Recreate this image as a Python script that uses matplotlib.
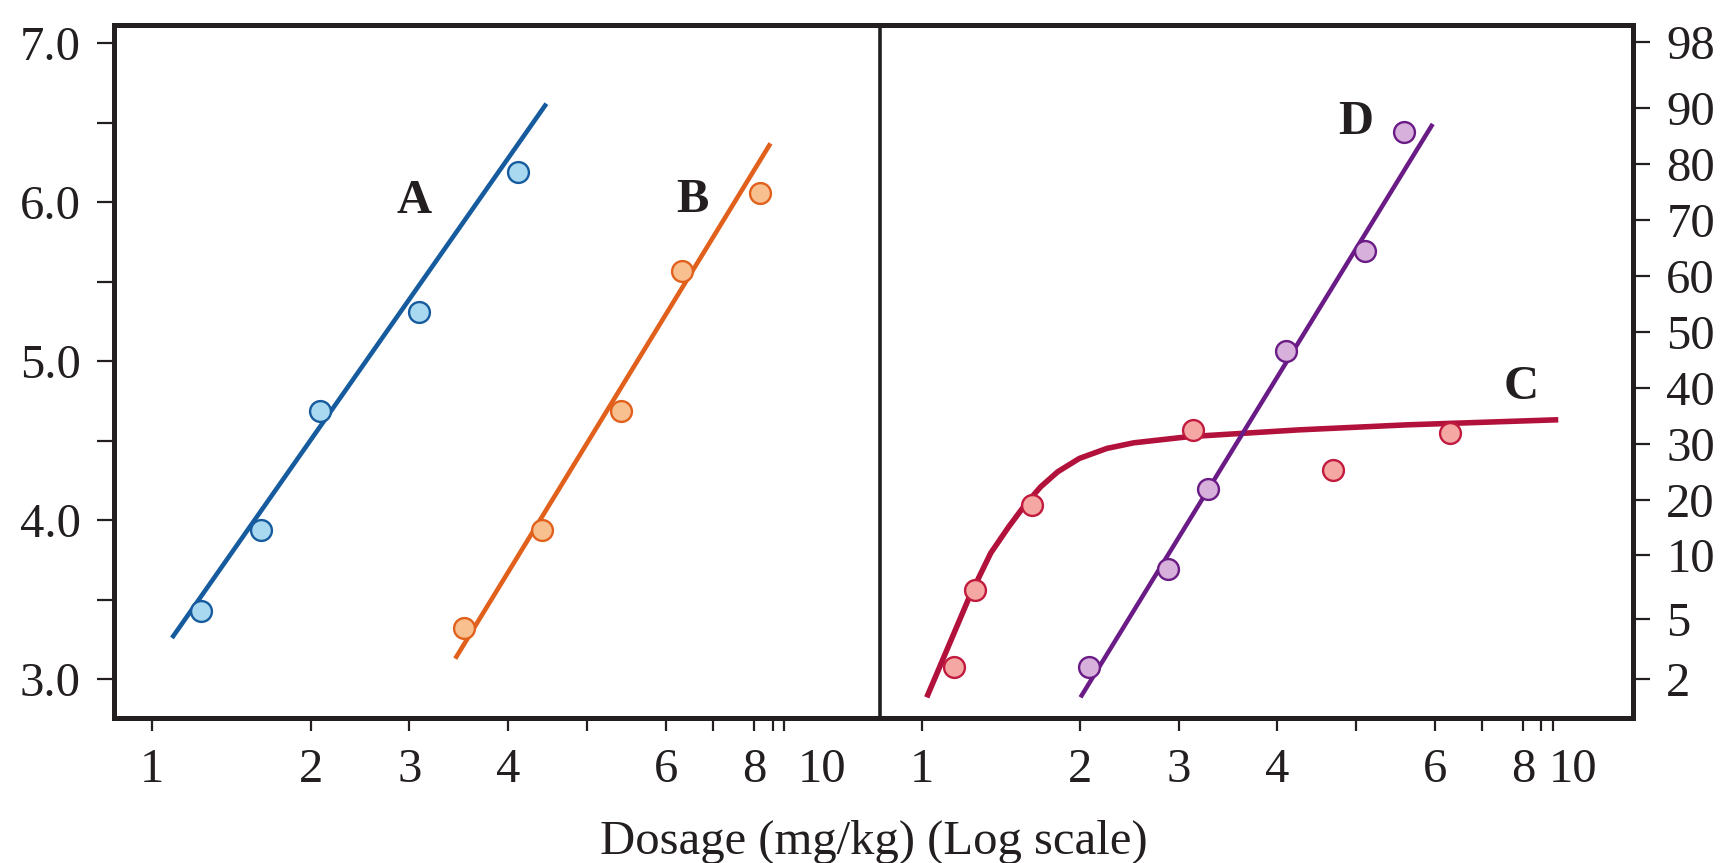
import numpy as np
import matplotlib.pyplot as plt
from matplotlib.transforms import ScaledTranslation

plt.rcParams['font.family'] = ['Liberation Serif', 'DejaVu Serif']

# The dose axis in the source figure is hand drawn: its gradations are not
# spaced as a true log scale. Gradation -> position (in decades from 1).
dose_marks = [0.5, 1, 2, 3, 4, 5, 6, 7, 8, 9, 10, 20]
dose_pos = [-0.301, 0.0, 0.251, 0.407, 0.563, 0.688, 0.813, 0.888, 0.953, 0.982, 1.0, 1.301]

# Right hand percent axis as printed -> height in probit units of the left axis
pct_marks = [1, 2, 5, 10, 20, 30, 40, 50, 60, 70, 80, 90, 98, 99]
pct_pos = [2.754, 3.004, 3.379, 3.780, 4.130, 4.480, 4.834, 5.184, 5.536, 5.887, 6.239, 6.591, 7.006, 7.256]

# Left panel, probit units
a_dose = [1.24, 1.61, 2.08, 3.09, 4.12]
a_probit = [3.43, 3.94, 4.69, 5.31, 6.19]
a_fit_dose = [1.09, 4.46]
a_fit_probit = [3.26, 6.62]

b_dose = [3.52, 4.41, 5.41, 6.32, 8.31]
b_probit = [3.32, 3.94, 4.69, 5.57, 6.06]
b_fit_dose = [3.43, 8.88]
b_fit_probit = [3.13, 6.37]

# Right panel, percent responding
c_dose = [1.15, 1.26, 1.62, 3.13, 4.68, 6.31]
c_pct = [2.6, 7.3, 19.0, 32.5, 25.3, 31.9]
c_fit_dose = [1.02, 1.23, 1.35, 1.46, 1.57, 1.68, 1.81, 1.99, 2.23, 2.49, 3.09, 4.25, 5.63, 10.2]
c_fit_pct = [1.53, 6.75, 10.4, 15.1, 19.1, 22.3, 25.0, 27.4, 29.2, 30.2, 31.3, 32.5, 33.4, 34.3]

d_dose = [2.07, 2.87, 3.27, 4.10, 5.11, 5.58]
d_pct = [2.6, 8.9, 21.9, 46.6, 64.5, 85.8]
d_fit_dose = [2.0, 5.97]
d_fit_pct = [1.53, 87.2]

x_ticks = [1, 2, 3, 4, 5, 6, 7, 8, 9, 10]
x_ticklabels = ['1', '2', '3', '4', '', '6', '', '8', '', '10']
y_ticks = [3.0, 3.5, 4.0, 4.5, 5.0, 5.5, 6.0, 6.5, 7.0]
y_ticklabels = ['3.0', '', '4.0', '', '5.0', '', '6.0', '', '7.0']
pct_ticks = [2, 5, 10, 20, 30, 40, 50, 60, 70, 80, 90, 98]


def dose_fwd(x):
    return np.interp(np.log10(np.clip(x, 1e-6, None)), np.log10(dose_marks), dose_pos)


def dose_inv(u):
    return 10 ** np.interp(u, dose_pos, np.log10(dose_marks))


def pct_fwd(p):
    return np.interp(p, pct_marks, pct_pos)


def pct_inv(u):
    return np.interp(u, pct_pos, pct_marks)


ink = '#231f20'
fs = 35

fig = plt.figure(figsize=(17.2, 8.63), dpi=100)
ax1 = fig.add_axes([0.0663, 0.1677, 0.4454, 0.8034])
ax2 = fig.add_axes([0.5116, 0.1677, 0.4378, 0.8034])

for ax in (ax1, ax2):
    ax.set_xscale('function', functions=(dose_fwd, dose_inv))
    ax.set_xticks(x_ticks)
    ax.set_xticklabels(x_ticklabels)
    ax.tick_params(axis='x', direction='out', length=9.5, width=1.6, pad=12,
                   labelsize=fs, color=ink, labelcolor=ink)
    for s in ax.spines.values():
        s.set_linewidth(3.6)
        s.set_color(ink)

ax1.set_xlim(0.87, 14.2)
ax2.set_xlim(0.857, 13.4)

ax1.set_ylim(2.755, 7.115)
ax1.set_yticks(y_ticks)
ax1.set_yticklabels(y_ticklabels)
ax1.tick_params(axis='y', direction='out', length=12, width=1.6, pad=12,
                labelsize=fs, color=ink, labelcolor=ink)
ax1.spines['right'].set_visible(False)

ax2.set_yscale('function', functions=(pct_fwd, pct_inv))
ax2.set_ylim(pct_inv(2.755), pct_inv(7.115))
ax2.set_yticks(pct_ticks)
ax2.set_yticklabels([str(p) for p in pct_ticks])
ax2.yaxis.tick_right()
ax2.tick_params(axis='y', direction='out', length=12, width=1.6, pad=12,
                labelsize=fs, color=ink, labelcolor=ink)
# the divider between the two panels
ax2.spines['left'].set_linewidth(2.6)

# "10" sits to the right of its tick in the original
for ax, shift in ((ax1, 0.38), (ax2, 0.20)):
    lab = ax.get_xticklabels()[-1]
    lab.set_transform(lab.get_transform() + ScaledTranslation(shift, 0, fig.dpi_scale_trans))

mk = dict(marker='o', ms=15, mew=1.7, ls='none', zorder=3)

ax1.plot(a_fit_dose, a_fit_probit, color='#155b9d', lw=3.3, solid_capstyle='butt')
ax1.plot(a_dose, a_probit, mfc='#a9d8f1', mec='#155b9d', **mk)
ax1.plot(b_fit_dose, b_fit_probit, color='#e0601c', lw=3.3, solid_capstyle='butt')
ax1.plot(b_dose, b_probit, mfc='#f8c08f', mec='#e0601c', **mk)

ax2.plot(c_fit_dose, c_fit_pct, color='#b2113b', lw=4.0, solid_capstyle='butt',
         solid_joinstyle='round')
ax2.plot(c_dose, c_pct, mfc='#f5a8a3', mec='#c21a3e', **mk)
ax2.plot(d_fit_dose, d_fit_pct, color='#6a1b86', lw=3.2, solid_capstyle='butt')
ax2.plot(d_dose, d_pct, mfc='#d7b0db', mec='#6a1b86', **mk)

lbl = dict(fontsize=fs, fontweight='bold', color=ink, ha='center', va='center')
ax1.text(3.04, 6.01, 'A', **lbl)
ax1.text(6.55, 6.015, 'B', **lbl)
ax2.text(7.96, 40.2, 'C', **lbl)
ax2.text(5.0, 87.6, 'D', **lbl)

fig.text(874 / 1720, 1 - 842 / 863, 'Dosage (mg/kg) (Log scale)', ha='center', va='center',
         fontsize=fs, color=ink)

fig.savefig('out.png', dpi=100)
